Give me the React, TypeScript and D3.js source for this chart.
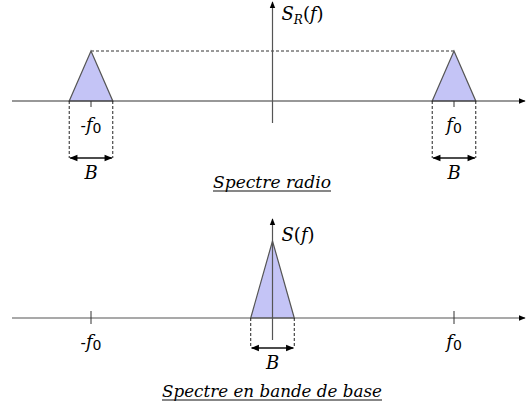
import React from 'react';
import * as d3 from 'd3';

// frequency positions (units of f0) and spectrum heights
const carriers = [-1, 1];
const bandwidth = 0.24;
const radioPeak = 1;
const basebandPeak = 1.54;
const tickFreqs = [-1, 1];
const tickLabels = ['-', ''];
const titles = ['Spectre radio', 'Spectre en bande de base'];
const axisLabels = ['S', 'S'];

const W = 526;
const H = 414;
const SERIF = '"DejaVu Serif", "Liberation Serif", serif';
const SANS = '"DejaVu Sans", sans-serif';
const serifIt: React.CSSProperties = { fontFamily: SERIF, fontStyle: 'italic' };

const x = d3.scaleLinear().domain([-1, 1]).range([91, 454]);
const yTop = d3.scaleLinear().domain([0, 1]).range([101, 51]);
const yBot = d3.scaleLinear().domain([0, 1]).range([318, 268]);

const line = d3.line<[number, number]>();

function Triangle({ fc, peak, y }: { fc: number; peak: number; y: d3.ScaleLinear<number, number> }) {
  const pts: [number, number][] = [
    [x(fc - bandwidth / 2), y(0)],
    [x(fc), y(peak)],
    [x(fc + bandwidth / 2), y(0)],
  ];
  return <path d={line(pts) + 'Z'} fill="#c4c4f6" stroke="#555" strokeWidth={1.2} />;
}

function BandMarker({ fc, y, depth }: { fc: number; y: d3.ScaleLinear<number, number>; depth: number }) {
  const x0 = x(fc - bandwidth / 2);
  const x1 = x(fc + bandwidth / 2);
  const y0 = y(0);
  return (
    <g>
      <line x1={x0} x2={x0} y1={y0} y2={y0 + depth} stroke="#222" strokeDasharray="3,2" />
      <line x1={x1} x2={x1} y1={y0} y2={y0 + depth} stroke="#222" strokeDasharray="3,2" />
      <line x1={x0 + 1} x2={x1 - 1} y1={y0 + depth} y2={y0 + depth} stroke="#111" strokeWidth={1.3}
        markerStart="url(#ah)" markerEnd="url(#ah)" />
      <text x={x(fc)} y={y0 + depth + 21} textAnchor="middle" style={{ ...serifIt, fontSize: 18 }}>B</text>
    </g>
  );
}

function FLabel({ f, yy, prefix }: { f: number; yy: number; prefix: string }) {
  return (
    <text x={x(f)} y={yy} textAnchor="middle" style={{ fontSize: 18 }}>
      <tspan style={{ fontFamily: SANS, fontSize: 15 }}>{prefix}</tspan>
      <tspan style={serifIt}>f</tspan>
      <tspan style={{ fontFamily: SANS, fontSize: 14 }} dy={2}>0</tspan>
    </text>
  );
}

function Title({ text, yy, width }: { text: string; yy: number; width: number }) {
  const cx = 272;
  return (
    <g>
      <text x={cx} y={yy} textAnchor="middle" style={{ ...serifIt, fontSize: 17 }}
        textLength={width} lengthAdjust="spacingAndGlyphs">{text}</text>
      <line x1={cx - width / 2} x2={cx + width / 2} y1={yy + 3} y2={yy + 3} stroke="#111" strokeWidth={1.2} />
    </g>
  );
}

export default function App() {
  const xStart = 12;
  const xEnd = W - 1;
  return (
    <svg width={W} height={H} style={{ position: 'absolute', left: 0, top: 0, background: '#fff' }}>
      <defs>
        <marker id="ah" viewBox="0 0 10 10" refX="9" refY="5" markerWidth="9" markerHeight="8" orient="auto-start-reverse" markerUnits="userSpaceOnUse">
          <path d="M0,1 L10,5 L0,9 Z" fill="#000" />
        </marker>
        <marker id="ax" viewBox="0 0 10 10" refX="9" refY="5" markerWidth="7" markerHeight="7" orient="auto" markerUnits="userSpaceOnUse">
          <path d="M0,1 L10,5 L0,9 Z" fill="#000" />
        </marker>
      </defs>

      {/* top panel: radio spectrum */}
      <line x1={x(-1)} x2={x(1)} y1={yTop(radioPeak)} y2={yTop(radioPeak)} stroke="#333" strokeDasharray="3,2" />
      {carriers.map((c) => <Triangle key={c} fc={c} peak={radioPeak} y={yTop} />)}
      <line x1={xStart} x2={xEnd} y1={yTop(0)} y2={yTop(0)} stroke="#333" strokeWidth={1.2} markerEnd="url(#ax)" />
      <line x1={x(0)} x2={x(0)} y1={yTop(-0.44)} y2={yTop(1.98)} stroke="#555" strokeWidth={1.2} markerEnd="url(#ax)" />
      {tickFreqs.map((f) => (
        <line key={f} x1={x(f)} x2={x(f)} y1={yTop(0)} y2={yTop(0) + 6} stroke="#333" />
      ))}
      {tickFreqs.map((f, i) => <FLabel key={f} f={f} yy={131} prefix={tickLabels[i]} />)}
      {carriers.map((c) => <BandMarker key={c} fc={c} y={yTop} depth={57} />)}
      <text x={x(0) + 9} y={20} style={{ ...serifIt, fontSize: 18 }}>
        {axisLabels[0]}<tspan style={{ fontSize: 12 }} dy={4}>R</tspan><tspan dy={-4} style={{ fontStyle: 'normal' }}>(</tspan>f<tspan style={{ fontStyle: 'normal' }}>)</tspan>
      </text>
      <Title text={titles[0]} yy={188} width={118} />

      {/* bottom panel: baseband spectrum */}
      <Triangle fc={0} peak={basebandPeak} y={yBot} />
      <line x1={xStart} x2={xEnd} y1={yBot(0)} y2={yBot(0)} stroke="#555" strokeWidth={1.2} markerEnd="url(#ax)" />
      <line x1={x(0)} x2={x(0)} y1={yBot(-0.44)} y2={yBot(1.98)} stroke="#555" strokeWidth={1.2} markerEnd="url(#ax)" />
      {tickFreqs.map((f) => (
        <line key={f} x1={x(f)} x2={x(f)} y1={yBot(0) - 7} y2={yBot(0) + 6} stroke="#333" />
      ))}
      {tickFreqs.map((f, i) => <FLabel key={f} f={f} yy={348} prefix={tickLabels[i]} />)}
      <BandMarker fc={0} y={yBot} depth={30} />
      <text x={x(0) + 9} y={241} style={{ ...serifIt, fontSize: 18 }}>
        {axisLabels[1]}<tspan style={{ fontStyle: 'normal' }}>(</tspan>f<tspan style={{ fontStyle: 'normal' }}>)</tspan>
      </text>
      <Title text={titles[1]} yy={397} width={220} />
    </svg>
  );
}
